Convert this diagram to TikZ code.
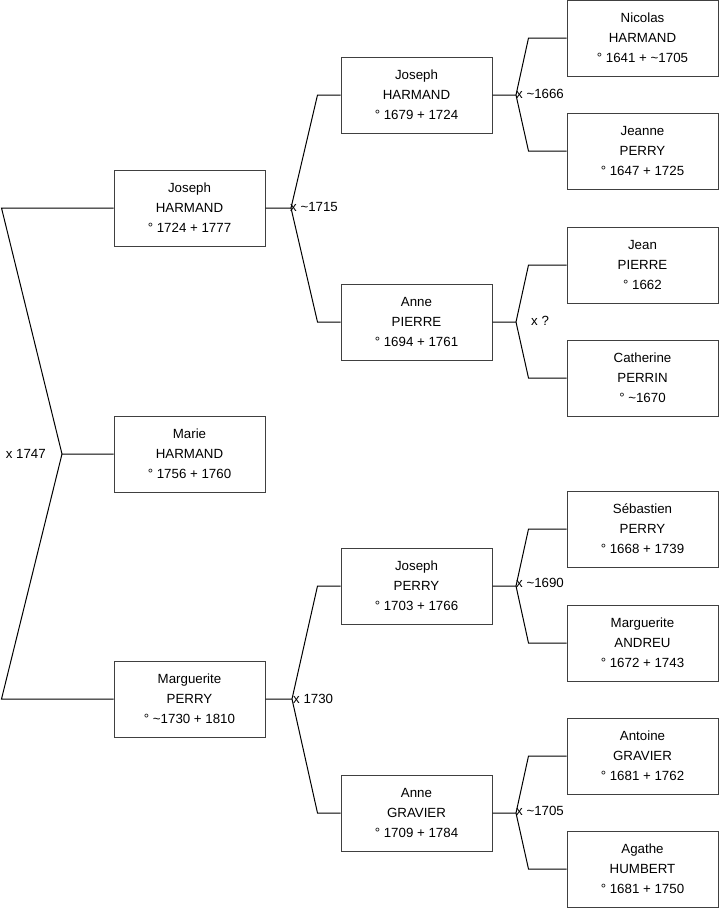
\documentclass[tikz,border=0pt]{standalone}
\usepackage{fontspec}
\setmainfont{Liberation Sans}
\usetikzlibrary{positioning}

\newcommand{\abt}{\textasciitilde}

\tikzset{
  person/.style={draw=black!75, line width=1pt, minimum width=151pt, minimum height=76pt,
    inner sep=0pt, align=center, font=\fontsize{13.3}{20}\selectfont},
  link/.style={line width=1pt},
  union/.style={inner sep=0pt, font=\fontsize{13.3}{16}\selectfont}
}

\begin{document}
\begin{tikzpicture}[x=1pt,y=-1pt]
\useasboundingbox (0,0) rectangle (719,908);

% generation 1
\node [person] (jh1) at (189.5,208) {Joseph\\ HARMAND\\ \textdegree{} 1724 + 1777};
\node [person] (mh1) at (189.5,454) {Marie\\ HARMAND\\ \textdegree{} 1756 + 1760};
\node [person] (mp1) at (189.5,699) {Marguerite\\ PERRY\\ \textdegree{} \abt1730 + 1810};

% generation 2
\node [person] (jh2) at (416.5,95) {Joseph\\ HARMAND\\ \textdegree{} 1679 + 1724};
\node [person] (ap2) at (416.5,322) {Anne\\ PIERRE\\ \textdegree{} 1694 + 1761};
\node [person] (jp2) at (416.5,586) {Joseph\\ PERRY\\ \textdegree{} 1703 + 1766};
\node [person] (ag2) at (416.5,813) {Anne\\ GRAVIER\\ \textdegree{} 1709 + 1784};

% generation 3
\node [person] (nh3) at (642.5,38) {Nicolas\\ HARMAND\\ \textdegree{} 1641 + \abt1705};
\node [person] (jp3) at (642.5,151) {Jeanne\\ PERRY\\ \textdegree{} 1647 + 1725};
\node [person] (jn3) at (642.5,265) {Jean\\ PIERRE\\ \textdegree{} 1662};
\node [person] (cp3) at (642.5,378) {Catherine\\ PERRIN\\ \textdegree{} \abt1670};
\node [person] (sp3) at (642.5,529) {S\'ebastien\\ PERRY\\ \textdegree{} 1668 + 1739};
\node [person] (ma3) at (642.5,643) {Marguerite\\ ANDREU\\ \textdegree{} 1672 + 1743};
\node [person] (an3) at (642.5,756) {Antoine\\ GRAVIER\\ \textdegree{} 1681 + 1762};
\node [person] (ah3) at (642.5,869) {Agathe\\ HUMBERT\\ \textdegree{} 1681 + 1750};

% unions
\coordinate (u0) at (62,454);
\coordinate (u1) at (291,208);
\coordinate (u2) at (292,699);
\coordinate (u3) at (516,95);
\coordinate (u4) at (516,322);
\coordinate (u5) at (516,586);
\coordinate (u6) at (516,813);

\draw [link] (mh1.west) -- (u0) -- ([xshift=-112pt]jh1.west) -- (jh1.west);
\draw [link] (u0) -- ([xshift=-112pt]mp1.west) -- (mp1.west);

\draw [link] (jh1.east) -- (u1) -- ([xshift=-23pt]jh2.west) -- (jh2.west);
\draw [link] (u1) -- ([xshift=-23pt]ap2.west) -- (ap2.west);
\draw [link] (mp1.east) -- (u2) -- ([xshift=-23pt]jp2.west) -- (jp2.west);
\draw [link] (u2) -- ([xshift=-23pt]ag2.west) -- (ag2.west);

\draw [link] (jh2.east) -- (u3) -- ([xshift=-38pt]nh3.west) -- (nh3.west);
\draw [link] (u3) -- ([xshift=-38pt]jp3.west) -- (jp3.west);
\draw [link] (ap2.east) -- (u4) -- ([xshift=-38pt]jn3.west) -- (jn3.west);
\draw [link] (u4) -- ([xshift=-38pt]cp3.west) -- (cp3.west);
\draw [link] (jp2.east) -- (u5) -- ([xshift=-38pt]sp3.west) -- (sp3.west);
\draw [link] (u5) -- ([xshift=-38pt]ma3.west) -- (ma3.west);
\draw [link] (ag2.east) -- (u6) -- ([xshift=-38pt]an3.west) -- (an3.west);
\draw [link] (u6) -- ([xshift=-38pt]ah3.west) -- (ah3.west);

\node [union, anchor=east] (m0) at ([xshift=-16pt]u0) {x 1747};
\node [union, anchor=west] (m1) at ([xshift=-1pt,yshift=1pt]u1) {x \abt1715};
\node [union, anchor=west] (m2) at ([xshift=1pt]u2) {x 1730};
\node [union, anchor=west] (m3) at ([yshift=1pt]u3) {x \abt1666};
\node [union, anchor=west] (m4) at ([xshift=15pt,yshift=1pt]u4) {x ?};
\node [union, anchor=west] (m5) at ([yshift=3pt]u5) {x \abt1690};
\node [union, anchor=west] (m6) at ([yshift=2pt]u6) {x \abt1705};
\end{tikzpicture}
\end{document}
